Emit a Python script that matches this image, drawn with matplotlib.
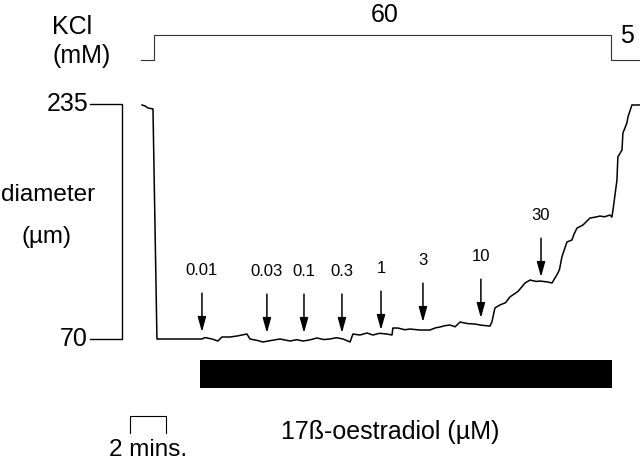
import matplotlib
matplotlib.use("Agg")
import matplotlib.pyplot as plt

plt.rcParams['font.family'] = ['Liberation Sans', 'DejaVu Sans']

# vessel diameter trace (time in min, diameter in um)
time_min = [0.00, 0.17, 0.33, 0.61, 0.83, 3.33, 3.50, 3.89, 4.22, 4.44, 4.89, 5.28,
            5.83, 6.00, 6.40, 6.72, 7.11, 7.67, 8.22, 8.60, 8.94, 9.30, 9.72,
            10.10, 10.44, 10.80, 11.17, 11.56, 11.72, 12.11, 12.50, 12.83, 13.20,
            13.61, 13.89, 13.94, 14.22, 14.60, 14.89, 15.44, 16.00, 16.30, 16.56,
            16.80, 17.11, 17.40, 17.67, 18.10, 18.50, 18.90, 19.33, 19.44, 19.61,
            19.89, 20.20, 20.44, 20.90, 21.28, 21.56, 21.90, 22.11, 22.56, 22.78,
            23.11, 23.20, 23.33, 23.61, 23.89, 24.00, 24.17, 24.50, 24.89, 25.20,
            25.44, 25.70, 26.00, 26.11, 26.17, 26.39, 26.44, 26.67, 26.72, 26.94,
            27.00, 27.22, 27.67]
diameter = [234.3, 233.6, 232.2, 231.5, 70.0, 70.0, 71.0, 70.0, 68.6, 71.4, 71.4,
            72.1, 73.5, 70.0, 69.0, 67.9, 68.8, 70.0, 68.6, 69.5, 68.6, 69.3,
            70.7, 69.6, 70.0, 70.9, 70.0, 67.9, 73.5, 72.8, 74.2, 72.8, 74.0,
            73.5, 72.8, 77.7, 77.7, 76.5, 77.0, 76.3, 76.3, 77.8, 78.4,
            79.3, 79.8, 78.6, 81.9, 80.8, 80.5, 79.6, 79.1, 81.9, 91.8,
            93.9, 95.5, 99.5, 103.5, 109.3, 111.4, 110.4, 110.7, 110.0, 109.3,
            116.3, 119.0, 127.6, 138.1, 139.5, 143.5, 147.9, 150.0, 154.9, 155.6,
            156.3, 155.8, 157.0, 155.6, 160.6, 181.6, 197.8, 202.7, 214.6, 221.6,
            225.8, 234.3, 234.3]

# KCl concentration steps
kcl_time = [-0.06, 0.67, 0.67, 26.06, 26.06, 27.67]
kcl_mm = [5, 5, 60, 60, 5, 5]

# oestradiol additions
dose_labels = ['0.01', '0.03', '0.1', '0.3', '1', '3', '10', '30']
dose_time = [3.33, 6.94, 9.00, 11.11, 13.28, 15.61, 18.83, 22.17]
dose_tip = [74.9, 74.2, 74.2, 74.2, 76.3, 81.9, 84.7, 113.5]
oestradiol_start = 3.22
oestradiol_end = 26.11

fig = plt.figure(figsize=(6.4, 4.63), dpi=100)
ax = fig.add_axes([0, 0, 1, 1])
ax.set_xlim(-7.89, 27.67)
ax.set_ylim(-17.06, 308.0)
ax.axis('off')

ax.plot(time_min, diameter, c='k', lw=1.1)

# drug bar
ax.barh(45.5, oestradiol_end - oestradiol_start, left=oestradiol_start,
        height=19.7, color='k')
ax.text(13.78, 4.7, '17ß-oestradiol (µM)', fontsize=18,
        ha='center', va='center')

# arrows
for lab, t, tip in zip(dose_labels, dose_time, dose_tip):
    ax.annotate('', xy=(t, tip), xytext=(0, 28), textcoords='offset points',
                arrowprops=dict(arrowstyle='-|>,head_length=0.9,head_width=0.25',
                                color='k', lw=1.1, mutation_scale=10,
                                shrinkA=0, shrinkB=0))
    ax.annotate(lab, xy=(t, tip), xytext=(0, 44), textcoords='offset points',
                fontsize=12, ha='center', va='center')

# diameter scale
ax.plot([-2.89, -1.11, -1.11, -2.89], [235, 235, 70, 70], c='k', lw=1)
ax.text(-3.0, 235, '235', fontsize=18, ha='right', va='center')
ax.text(-3.0, 70, '70', fontsize=18, ha='right', va='center')
ax.text(-5.2, 171, 'diameter', fontsize=17.5, ha='center', va='center')
ax.text(-5.3, 141.6, '(µm)', fontsize=17.5, ha='center', va='center')

# time scale bar
ax.plot([-0.67, -0.67, 1.33, 1.33], [4.0, 15.9, 15.9, 4.0], c='k', lw=0.8)
ax.text(0.33, -8.0, '2 mins.', fontsize=17.5, ha='center', va='center')

# KCl trace
ax2 = fig.add_axes([0, 0, 1, 1])
ax2.set_xlim(-7.89, 27.67)
ax2.set_ylim(-881.6, 137)
ax2.axis('off')
ax2.patch.set_alpha(0)
ax2.plot(kcl_time, kcl_mm, c='#333333', lw=0.8)
ax2.text(13.5, 104, '60', fontsize=18, ha='center', va='center')
ax2.text(26.94, 57.8, '5', fontsize=18, ha='center', va='center')
ax2.text(-5.0, 77.6, 'KCl', fontsize=18, ha='left', va='center')
ax2.text(-5.0, 13.8, '(mM)', fontsize=18, ha='left', va='center')

plt.savefig('out.png', dpi=100)
